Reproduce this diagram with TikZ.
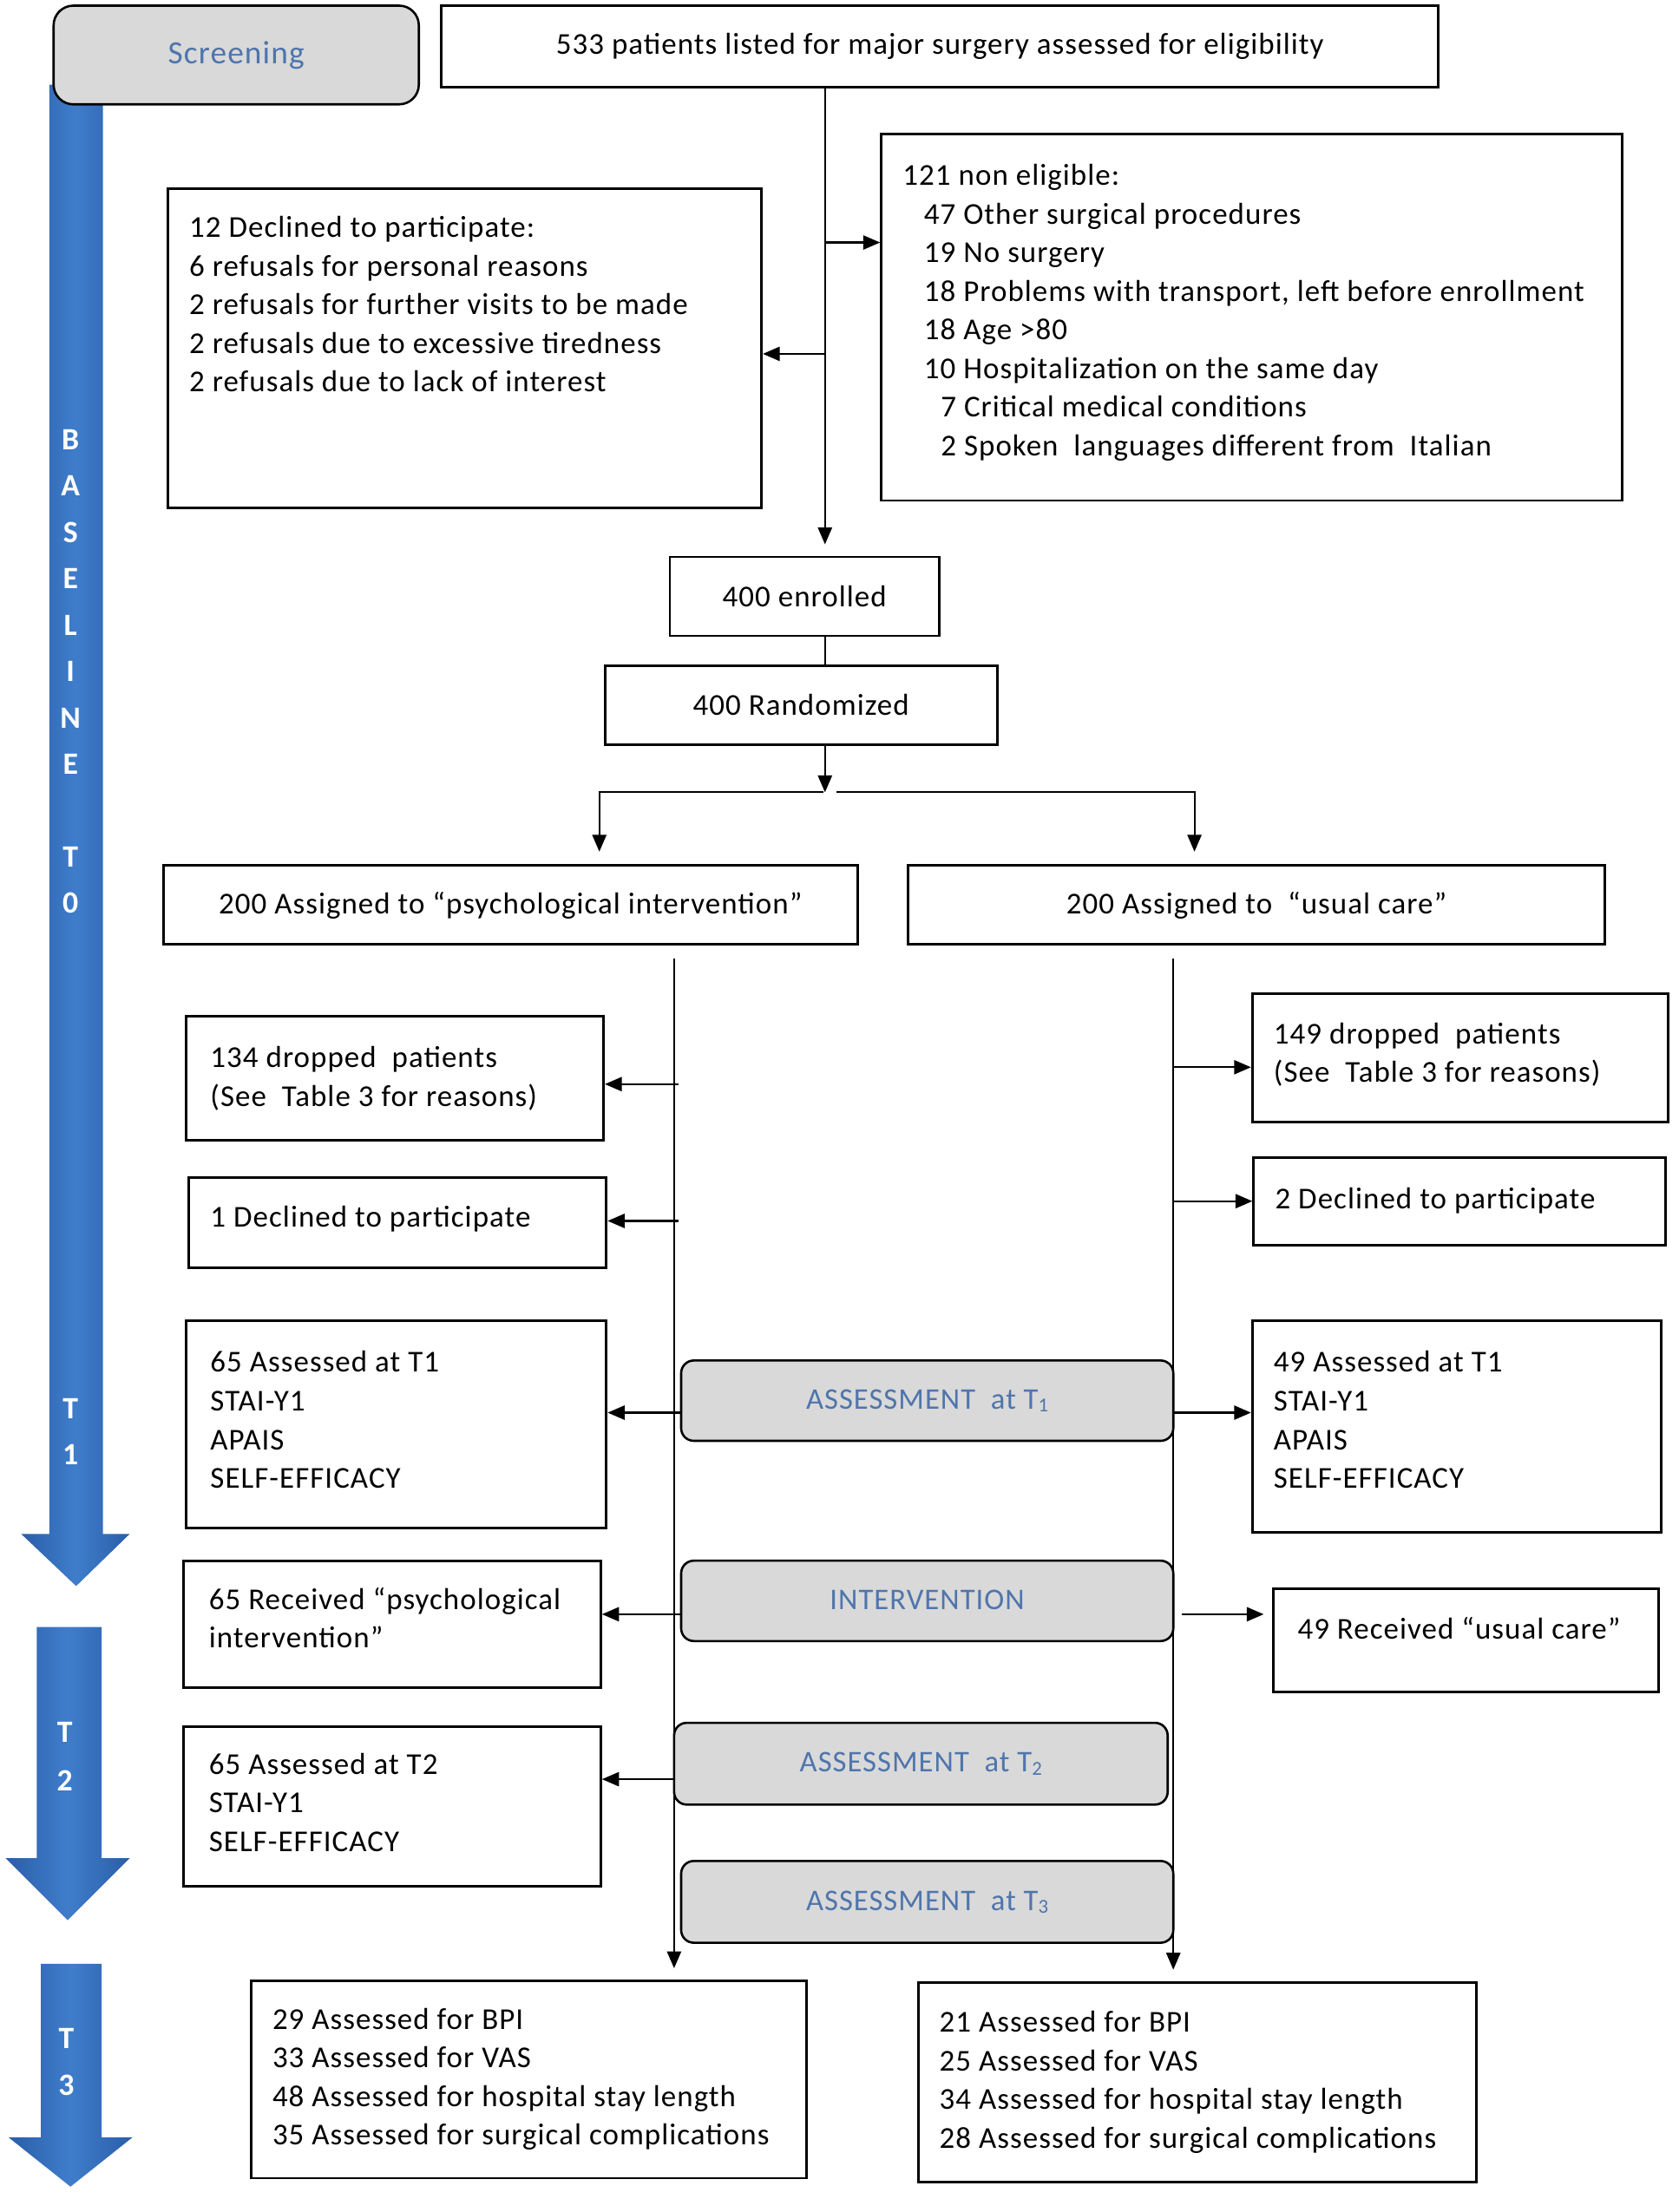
\documentclass[tikz,border=0pt]{standalone}
\usepackage{fontspec}
\setmainfont{Carlito}[LetterSpace=3]
\usetikzlibrary{arrows.meta,calc,backgrounds}
\definecolor{graybox}{HTML}{D9D9D9}
\definecolor{bluetxt}{HTML}{4F75AC}
\definecolor{bluD}{HTML}{2A5EA8}
\definecolor{bluL}{HTML}{3F7DCB}
\newcommand{\fsz}{\fontsize{21.5}{27.4}\selectfont}
\newcommand{\lsz}{\fontsize{21.3}{24}\selectfont}
\newcommand{\vsz}{\fontsize{22}{32.9}\selectfont}
\newcommand{\bx}[7][box]{\node[#1, minimum width={#5-#3}, minimum height={#6-#4}] (#2) at ({(#3+#5)/2},{(#4+#6)/2}) {#7};}
\newcommand{\Tsub}[1]{T\raisebox{-2pt}{\fontsize{14}{14}\selectfont #1}}
\begin{document}
\begin{tikzpicture}[x=1pt,y=-1pt,
  box/.style={draw, line width=1.8pt, rectangle, inner sep=0pt, fill=white, font=\fsz},
  rbox/.style={draw, line width=1.6pt, rounded corners=9pt, fill=graybox, inner sep=0pt, text=bluetxt, font=\lsz},
  tl/.style={anchor=north west, inner sep=0pt, align=left, font=\fsz},
  arr/.style={line width=1.3pt, -{Triangle[length=12pt,width=10pt]}},
  ln/.style={line width=1.3pt},
  vl/.style={text=white, font=\vsz\bfseries, align=center, inner sep=0pt, anchor=north},
  blu/.style={left color=bluD, right color=bluD, middle color=bluL}]
\useasboundingbox (0,0) rectangle (1190,1569);

% blue time arrows
\shade[blu] (35,60) -- (73,60) -- (73,1088) -- (92,1088) -- (54,1125) -- (15,1088) -- (35,1088) -- cycle;
\shade[blu] (26,1154) -- (72,1154) -- (72,1318) -- (92,1318) -- (48,1362) -- (4,1318) -- (26,1318) -- cycle;
\shade[blu] (29,1393) -- (72,1393) -- (72,1516) -- (94,1516) -- (50,1551) -- (6,1516) -- (29,1516) -- cycle;
\node[vl] (lbase) at (50,295.6) {\strut B\\A\\S\\E\\L\\I\\N\\E\\[32.9pt]T\\0};
\node[vl] (lt1) at (50,983) {\strut T\\1};
\node[vl, font=\fontsize{22}{34}\selectfont\bfseries] (lt2) at (46,1212) {\strut T\\2};
\node[vl] (lt3) at (47,1430) {\strut T\\3};

% screening
\bx[rbox, rounded corners=14pt, font=\fontsize{23}{26}\selectfont]{scr}{38}{4}{297}{74}{\raisebox{-3pt}{Screening}}

% boxes
\bx{top}{313}{4}{1020}{62}{533 patients listed for major surgery assessed for eligibility}
\bx{ne}{625}{95}{1150}{355}{}
\bx{dec}{119}{134}{540}{360}{}
\bx{enr}{475}{395}{666}{451}{400 enrolled}
\bx{rnd}{429}{472}{707}{528}{400 Randomized}
\bx{psy}{116}{614}{608}{670}{200 Assigned to “psychological intervention”}
\bx{uc}{644}{614}{1138}{670}{200 Assigned to \ “usual care”}
\bx{d134}{132}{721}{428}{809}{}
\bx{d149}{888}{705}{1183}{796}{}
\bx{dc1}{134}{835}{430}{899}{}
\bx{dc2}{889}{821}{1181}{883}{}
\bx{a65}{132}{937}{430}{1084}{}
\bx{a49}{888}{937}{1178}{1087}{}
\bx{r65}{130}{1107}{426}{1197}{}
\bx{r49}{903}{1127}{1176}{1200}{}
\bx{a2}{130}{1225}{426}{1338}{}
\bx{bl}{178}{1405}{572}{1545}{}
\bx{br}{651}{1406}{1047}{1548}{}

% trunks (background)
\coordinate (mx) at (585,0);
\coordinate (lt) at (478,680);
\coordinate (rt) at (832,680);
\begin{pgfonlayer}{background}
\draw[arr, shorten >=8pt] (lt) -- (lt |- bl.north);
\draw[arr, shorten >=8pt] (rt) -- (rt |- br.north);
\end{pgfonlayer}

% rounded stage boxes
\bx[rbox]{as1}{483}{965}{832}{1022}{ASSESSMENT \ at \Tsub{1}}
\bx[rbox]{int}{483}{1107}{832}{1164}{\raisebox{2pt}{INTERVENTION}}
\bx[rbox]{as2}{478}{1222}{828}{1280}{ASSESSMENT \ at \Tsub{2}}
\bx[rbox]{as3}{483}{1320}{832}{1378}{ASSESSMENT \ at \Tsub{3}}

% texts
\node[tl] (tne) at (640,112) {\strut 121 non eligible:\\
\hspace*{15pt}47 Other surgical procedures\\
\hspace*{15pt}19 No surgery\\
\hspace*{15pt}18 Problems with transport, left before enrollment\\
\hspace*{15pt}18 Age >80\\
\hspace*{15pt}10 Hospitalization on the same day\\
\hspace*{27pt}7 Critical medical conditions\\
\hspace*{27pt}2 Spoken \ languages different from \ Italian};
\node[tl] (tdec) at (134,149) {\strut 12 Declined to participate:\\
6 refusals for personal reasons\\
2 refusals for further visits to be made\\
2 refusals due to excessive tiredness\\
2 refusals due to lack of interest};
\node[tl] (td134) at (149,738) {\strut 134 dropped \ patients\\(See \ Table 3 for reasons)};
\node[tl] (td149) at (903,721) {\strut 149 dropped \ patients\\(See \ Table 3 for reasons)};
\node[tl] (tdc1) at (149,851) {\strut 1 Declined to participate};
\node[tl] (tdc2) at (904,838) {\strut 2 Declined to participate};
\node[tl] (ta65) at (149,954) {\strut 65 Assessed at T1\\STAI-Y1\\APAIS\\SELF-EFFICACY};
\node[tl] (ta49) at (903,954) {\strut 49 Assessed at T1\\STAI-Y1\\APAIS\\SELF-EFFICACY};
\node[tl] (tr65) at (148,1122) {\strut 65 Received “psychological\\intervention”};
\node[tl] (tr49) at (920,1143) {\strut 49 Received “usual care”};
\node[tl] (ta2) at (148,1239) {\strut 65 Assessed at T2\\STAI-Y1\\SELF-EFFICACY};
\node[tl] (tbl) at (193,1420) {\strut 29 Assessed for BPI\\33 Assessed for VAS\\48 Assessed for hospital stay length\\35 Assessed for surgical complications};
\node[tl] (tbr) at (666,1422) {\strut 21 Assessed for BPI\\25 Assessed for VAS\\34 Assessed for hospital stay length\\28 Assessed for surgical complications};

% connectors
\draw[arr, shorten >=8pt] (top.south -| mx) -- (enr.north -| mx);
\coordinate (j1) at (585,172);
\draw[arr] (j1) -- (j1 -| ne.west);
\coordinate (j2) at (585,251);
\draw[arr] (j2) -- (j2 -| dec.east);
\draw[ln] (enr.south -| mx) -- (rnd.north -| mx);
\coordinate (sp) at (585,562);
\draw[arr] (rnd.south -| mx) -- (sp);
\coordinate (spl) at (584,562);
\coordinate (spr) at (593,562);
\coordinate (cl) at (425,0);
\coordinate (cr) at (847,0);
\draw[arr, shorten >=9pt] (spl) -| (cl |- psy.north);
\draw[arr, shorten >=9pt] (spr) -| (cr |- uc.north);
\coordinate (b1) at (481,769);
\draw[arr] (b1) -- (b1 -| d134.east);
\coordinate (b2) at (481,866);
\draw[arr] (b2) -- (b2 -| dc1.east);
\coordinate (b3) at (832,757);
\draw[arr] (b3) -- (b3 -| d149.west);
\coordinate (b4) at (832,852);
\draw[arr] (b4) -- (b4 -| dc2.west);
\coordinate (b5) at (483,1002);
\draw[arr] (b5) -- (b5 -| a65.east);
\coordinate (b6) at (832,1002);
\draw[arr] (b6) -- (b6 -| a49.west);
\coordinate (b7) at (483,1145);
\draw[arr] (b7) -- (b7 -| r65.east);
\coordinate (b8) at (838,1145);
\draw[arr, shorten >=6pt] (b8) -- (b8 -| r49.west);
\coordinate (b9) at (478,1262);
\draw[arr] (b9) -- (b9 -| a2.east);
\end{tikzpicture}
\end{document}
